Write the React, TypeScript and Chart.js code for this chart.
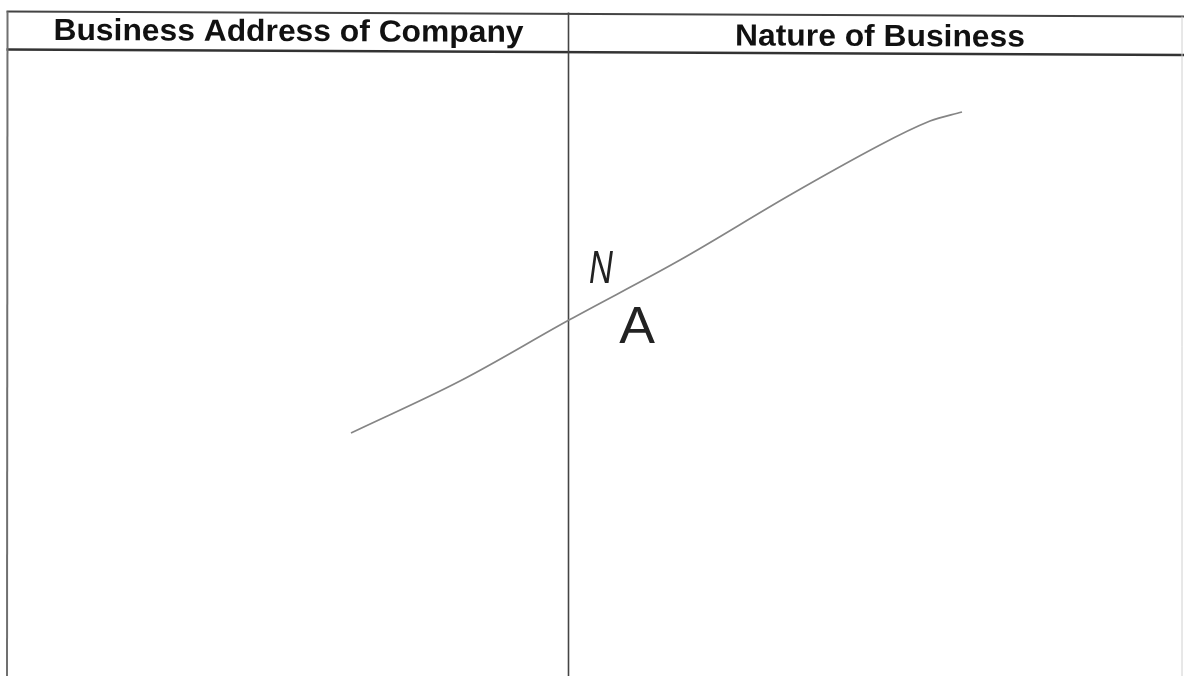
import React, { useEffect, useRef } from "react";
import { Chart, registerables } from "chart.js";

Chart.register(...registerables);

// ---- data ----
const COLUMN_HEADERS = ["Business Address of Company", "Nature of Business"];
const STROKE_X = [351, 460, 569, 680, 790, 880, 930, 962];
const STROKE_Y = [433, 381, 320, 260, 195, 145, 121, 112];
const HANDWRITTEN_TEXT = ["N", "A"];

// ---- layout (page coordinates of the scanned form) ----
const W = 1184;
const H = 676;
const TABLE = {
  left: 7.5,
  divider: 568.5,
  right: 1182,
  topL: 11.5,
  topR: 16.5,
  headL: 49.5,
  headR: 55,
  bottom: 676,
};
const HEADER_POS = [
  { cx: 288.5, base: 41 },
  { cx: 880, base: 46 },
];
const HAND_POS = [
  { x: 601, base: 283, size: 46, sx: 0.72, italic: true },
  { x: 637, base: 343, size: 51, sx: 1.05, italic: false },
];

const formPlugin = {
  id: "scannedForm",
  beforeDraw(chart: any) {
    const { ctx } = chart;
    const xs = chart.scales.x;
    const ys = chart.scales.y;
    const px = (v: number) => xs.getPixelForValue(v);
    const py = (v: number) => ys.getPixelForValue(v);
    ctx.save();
    ctx.fillStyle = "#ffffff";
    ctx.fillRect(0, 0, chart.width, chart.height);

    const seg = (x1: number, y1: number, x2: number, y2: number, w: number, c: string) => {
      ctx.beginPath();
      ctx.moveTo(px(x1), py(y1));
      ctx.lineTo(px(x2), py(y2));
      ctx.lineWidth = w;
      ctx.strokeStyle = c;
      ctx.stroke();
    };
    // horizontal rules
    seg(TABLE.left - 1, TABLE.topL, TABLE.right + 2, TABLE.topR, 2.2, "#444444");
    seg(TABLE.left - 1, TABLE.headL, TABLE.right + 2, TABLE.headR, 2.6, "#333333");
    // vertical rules
    seg(TABLE.left, TABLE.topL, TABLE.left - 0.5, TABLE.bottom, 2, "#707070");
    seg(TABLE.divider, TABLE.topL + 1, TABLE.divider, TABLE.bottom, 1.6, "#454545");
    seg(TABLE.right, TABLE.topR, TABLE.right, TABLE.bottom, 1, "#d0d0d0");

    // headers
    const angle = Math.atan2(TABLE.topR - TABLE.topL, TABLE.right - TABLE.left);
    COLUMN_HEADERS.forEach((t, i) => {
      const p = HEADER_POS[i];
      ctx.save();
      ctx.translate(px(p.cx), py(p.base));
      ctx.rotate(angle);
      ctx.scale(1.06, 1.02);
      ctx.font = "bold 30px 'Liberation Sans', Arial, sans-serif";
      ctx.textAlign = "center";
      ctx.textBaseline = "alphabetic";
      ctx.fillStyle = "#111111";
      ctx.fillText(t, 0, 0);
      ctx.restore();
    });
    ctx.restore();
  },
  afterDatasetsDraw(chart: any) {
    const { ctx } = chart;
    const xs = chart.scales.x;
    const ys = chart.scales.y;
    HANDWRITTEN_TEXT.forEach((t, i) => {
      const p = HAND_POS[i];
      ctx.save();
      ctx.translate(xs.getPixelForValue(p.x), ys.getPixelForValue(p.base));
      ctx.scale(p.sx, 1);
      ctx.font = `${p.italic ? "italic " : ""}${p.size}px 'Liberation Sans', Arial, sans-serif`;
      ctx.textAlign = "center";
      ctx.textBaseline = "alphabetic";
      ctx.fillStyle = "#222222";
      ctx.fillText(t, 0, 0);
      ctx.restore();
    });
  },
};

export default function App() {
  const ref = useRef<HTMLCanvasElement | null>(null);
  useEffect(() => {
    document.body.style.margin = "0";
    if (!ref.current) return;
    const chart = new Chart(ref.current, {
      type: "line",
      data: {
        datasets: [
          {
            data: STROKE_X.map((x, i) => ({ x, y: STROKE_Y[i] })),
            borderColor: "#858585",
            borderWidth: 1.7,
            pointRadius: 0,
            tension: 0.35,
            fill: false,
          },
        ],
      },
      options: {
        responsive: false,
        animation: false,
        events: [],
        layout: { padding: 0 },
        plugins: { legend: { display: false }, tooltip: { enabled: false } },
        scales: {
          x: { type: "linear", min: 0, max: W, display: false },
          y: { type: "linear", min: 0, max: H, reverse: true, display: false },
        },
      },
      plugins: [formPlugin],
    });
    return () => chart.destroy();
  }, []);
  return (
    <div style={{ position: "absolute", left: 0, top: 0, width: W, height: H, background: "#fff" }}>
      <canvas ref={ref} width={W} height={H} style={{ width: W, height: H, display: "block" }} />
    </div>
  );
}
